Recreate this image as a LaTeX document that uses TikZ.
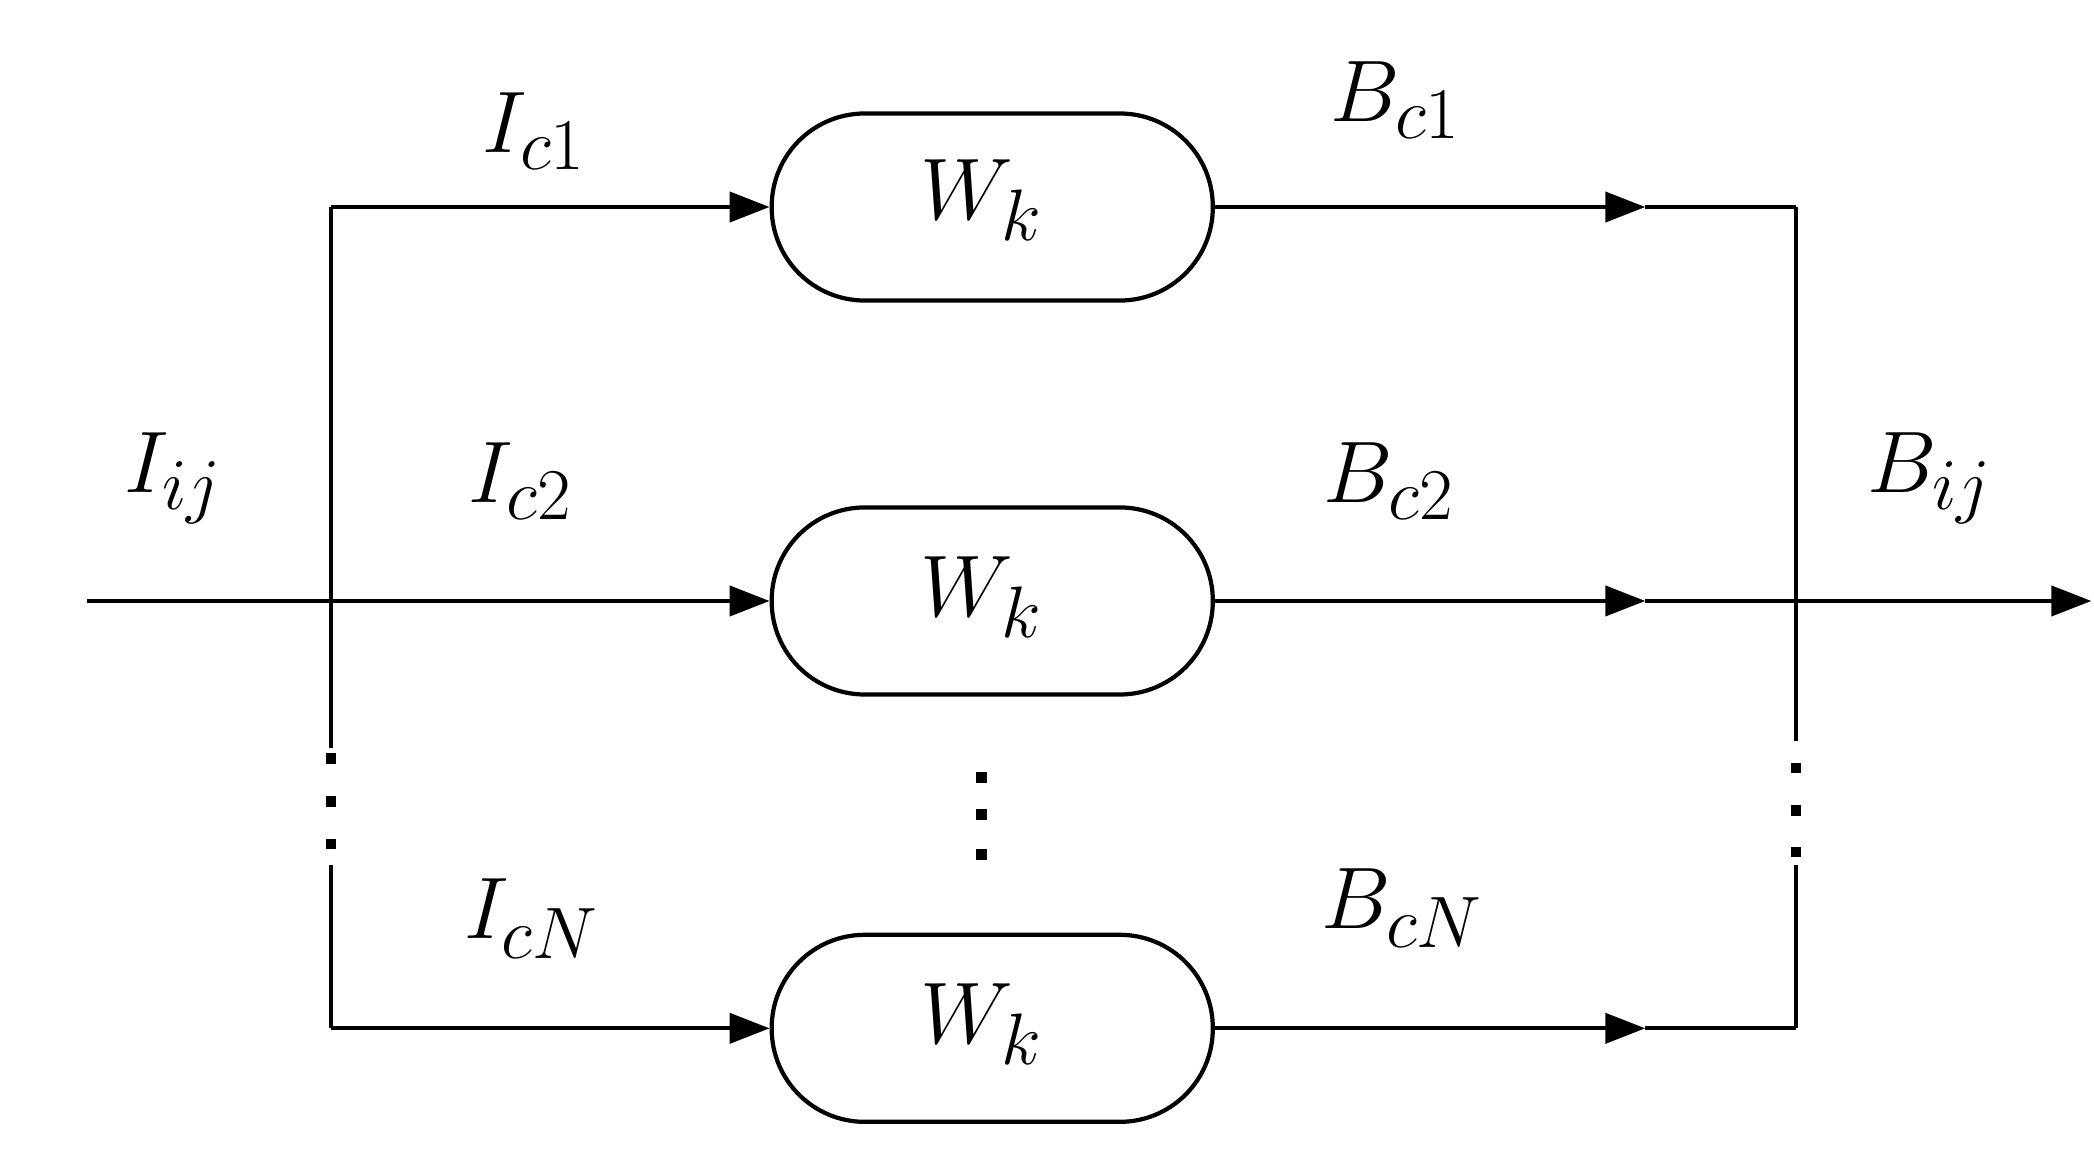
\documentclass[tikz,border=0pt]{standalone}
\usetikzlibrary{arrows.meta}
\begin{document}
\begin{tikzpicture}[x=0.013355cm,y=-0.013355cm,
  box/.style={draw,line width=1.2pt,minimum width=4.41cm,minimum height=1.87cm,rounded corners=0.93cm,inner sep=0pt},
  ln/.style={line width=1.2pt},
  arr/.style={ln,-{Triangle[length=0.4cm,width=0.3cm]}},
  lab/.style={font=\fontsize{28}{32}\selectfont},
  dot/.style={fill,minimum size=3pt,inner sep=0pt}]
\useasboundingbox (0,0) rectangle (1568,875);
\node[box] (b1) at (743,155) {}; \node[lab] at (735,150) {$W_k$};
\node[box] (b2) at (743,450) {}; \node[lab] at (735,447) {$W_k$};
\node[box] (b3) at (743,770) {}; \node[lab] at (735,767) {$W_k$};
% left bus
\coordinate (l1) at (248,155); \coordinate (l2) at (248,450); \coordinate (l3) at (248,770);
\coordinate (la) at (248,560); \coordinate (lb) at (248,648);
\draw[ln] (l1) -- (la); \draw[ln] (lb) -- (l3);
\foreach \y in {568,600,632} \node[dot] at (248,\y) {};
\foreach \y in {582,610,640} \node[dot] at (735,\y) {};
% right bus
\coordinate (r1) at (1345,155); \coordinate (r2) at (1345,450); \coordinate (r3) at (1345,770);
\coordinate (ra) at (1345,555); \coordinate (rb) at (1345,648);
\draw[ln] (r1) -- (ra); \draw[ln] (rb) -- (r3);
\foreach \y in {575,607,638} \node[dot] at (1345,\y) {};
% inputs
\coordinate (in) at (65,450);
\draw[arr] (l1) -- (b1.west);
\draw[arr] (in) -- (b2.west);
\draw[arr] (l3) -- (b3.west);
% outputs
\coordinate (m1) at (1232,155); \coordinate (m2) at (1232,450); \coordinate (m3) at (1232,770);
\coordinate (out) at (1566,450);
\draw[arr] (b1.east) -- (m1); \draw[ln] (m1) -- (r1);
\draw[arr] (b2.east) -- (m2); \draw[arr] (m2) -- (out);
\draw[arr] (b3.east) -- (m3); \draw[ln] (m3) -- (r3);
% labels
\node[lab] at (400,98) {$I_{c1}$};
\node[lab] at (1045,75) {$B_{c1}$};
\node[lab] at (130,358) {$I_{ij}$};
\node[lab] at (390,360) {$I_{c2}$};
\node[lab] at (1040,360) {$B_{c2}$};
\node[lab] at (1445,358) {$B_{ij}$};
\node[lab] at (398,688) {$I_{cN}$};
\node[lab] at (1050,680) {$B_{cN}$};
\end{tikzpicture}
\end{document}
